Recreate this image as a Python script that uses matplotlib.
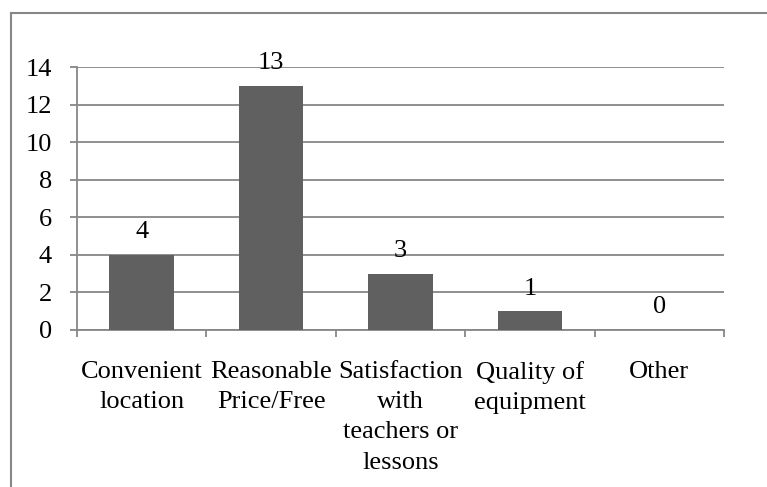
import numpy as np
import matplotlib.pyplot as plt
from matplotlib.lines import Line2D

# Datos del gráfico
categorias = ["Convenient\nlocation", "Reasonable\nPrice/Free",
              "Satisfaction\nwith\nteachers or\nlessons", "Quality of\nequipment", "Other"]
valores = [4, 13, 3, 1, 0]
yticks = [0, 2, 4, 6, 8, 10, 12, 14]

plt.rcParams['font.family'] = ['Liberation Serif', 'DejaVu Serif']
plt.rcParams['font.size'] = 19

gris = '#878787'
barra = '#606060'

fig = plt.figure(figsize=(7.67, 4.87), dpi=100)
ax = fig.add_axes([77/767, 1 - 330/487, (724 - 77)/767, (330 - 67)/487])

x = np.arange(len(valores))
ax.bar(x, valores, width=0.5, color=barra, zorder=3)

for xi, v in zip(x, valores):
    ax.annotate(str(v), (xi, v), xytext=(0, 12), textcoords='offset points',
                ha='center', va='baseline', fontsize=19)

ax.set_xlim(-0.5, len(valores) - 0.5)
ax.set_ylim(0, 14)
ax.set_yticks(yticks)
ax.yaxis.grid(True, color=gris, linewidth=1.3, zorder=0)

ax.set_xticks(x)
ax.set_xticklabels(categorias, linespacing=1.49)
ax.set_xticks(np.arange(len(valores) + 1) - 0.5, minor=True)
ax.tick_params(axis='x', which='major', length=0, pad=22)
ax.tick_params(axis='x', which='minor', length=5, color=gris, width=1.3)
ax.tick_params(axis='y', length=5, color=gris, width=1.3, pad=13)

for lado in ['top', 'right']:
    ax.spines[lado].set_visible(False)
for lado in ['left', 'bottom']:
    ax.spines[lado].set_color(gris)
    ax.spines[lado].set_linewidth(1.3)

# Borde exterior del gráfico
x0 = 11/767
y0 = 1 - 13/487
fig.add_artist(Line2D([x0, x0], [0, y0], color=gris, linewidth=1.5))
fig.add_artist(Line2D([x0, 1], [y0, y0], color=gris, linewidth=1.5))

fig.savefig('out.png', dpi=100)
